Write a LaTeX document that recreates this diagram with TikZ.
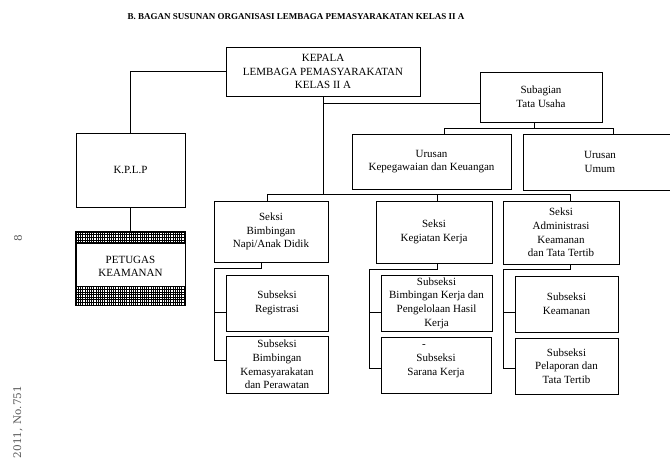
\documentclass[tikz,border=0pt]{standalone}
\usepackage{fontspec}
\setmainfont{Liberation Serif}
\newfontfamily\pagefont{DejaVu Serif}
\begin{document}
\begin{tikzpicture}[x=1pt,y=-1pt,
  box/.style={draw, line width=0.9pt, fill=white, inner sep=0pt, align=center, font=\fontsize{11}{13.7}\selectfont},
  conn/.style={line width=0.9pt},
  hatchline/.style={line width=0.32pt},
  margintext/.style={rotate=90, font=\pagefont\fontsize{10.5}{12}\selectfont, text=black!65}]
\useasboundingbox[fill=white] (0,0) rectangle (670,471);

\node[font=\bfseries\fontsize{9}{11}\selectfont] (title) at (296,17) {B. BAGAN SUSUNAN ORGANISASI LEMBAGA PEMASYARAKATAN KELAS II A};

\node[margintext] (pagenum) at (18,238) {8};
\node[margintext] (year) at (18,422) {2011, No.751};

% boxes
\node[box, minimum width=194pt, minimum height=49pt] (kepala) at (323,71.5) {KEPALA\\LEMBAGA PEMASYARAKATAN\\KELAS II A};
\node[box, minimum width=109pt, minimum height=74pt] (kplp) at (130.5,170) {K.P.L.P};
\node[box, minimum width=109pt, minimum height=73pt] (petugas) at (130.5,268.5) {};
\node[box, minimum width=122pt, minimum height=50pt] (sub) at (541,97) {Subagian\\Tata Usaha};
\node[box, minimum width=159pt, minimum height=55pt] (uk) at (431.5,161.5) {Urusan\\Kepegawaian dan Keuangan};
\node[box, minimum width=154pt, minimum height=56pt] (uu) at (600,162) {Urusan\\Umum};
\node[box, minimum width=114pt, minimum height=61pt] (sb) at (271,231.5) {Seksi\\Bimbingan\\Napi/Anak Didik};
\node[box, minimum width=116pt, minimum height=62pt] (sk) at (434,232) {Seksi\\Kegiatan Kerja};
\node[box, minimum width=116pt, minimum height=63pt] (sa) at (561,232.5) {Seksi\\Administrasi\\Keamanan\\dan Tata Tertib};
\node[box, minimum width=102pt, minimum height=56pt] (reg) at (277,303) {Subseksi\\Registrasi};
\node[box, minimum width=102pt, minimum height=57pt] (kem) at (277,364.5) {Subseksi\\Bimbingan\\Kemasyarakatan\\dan Perawatan};
\node[box, minimum width=111pt, minimum height=56pt] (bk) at (436.5,303) {Subseksi\\Bimbingan Kerja dan\\Pengelolaan Hasil\\Kerja};
\node[box, minimum width=110pt, minimum height=56pt] (sr) at (436,365) {};
\node[font=\fontsize{11}{13.7}\selectfont, align=center, inner sep=0pt] (srtext) at (436,366) {Subseksi\\Sarana Kerja};
\node[font=\fontsize{11}{13.7}\selectfont, inner sep=0pt] (srdash) at (424,346) {-};
\node[box, minimum width=103pt, minimum height=56pt] (kea) at (566.5,304) {Subseksi\\Keamanan};
\node[box, minimum width=103pt, minimum height=56pt] (pel) at (566.5,366) {Subseksi\\Pelaporan dan\\Tata Tertib};

% hatched bands of PETUGAS KEAMANAN
\begin{scope}
\clip (petugas.north west) rectangle ([yshift=-12pt]petugas.north east)
      ([yshift=19pt]petugas.south west) rectangle (petugas.south east);
\foreach \x in {76,78.2,...,186} \draw[hatchline] (\x,228) -- (\x,310);
\foreach \y in {232,234.6,...,308} \draw[hatchline] (70,\y) -- (190,\y);
\end{scope}
\draw[line width=0.9pt] (petugas.north west) rectangle (petugas.south east);
\draw[line width=0.9pt] ([yshift=-12pt]petugas.north west) -- ([yshift=-12pt]petugas.north east);
\draw[line width=0.9pt] ([yshift=19pt]petugas.south west) -- ([yshift=19pt]petugas.south east);
\node[font=\fontsize{11}{13.7}\selectfont, align=center, inner sep=0pt] (petugastext) at (130.5,266.5) {PETUGAS\\KEAMANAN};

% connectors
\coordinate (jt) at (323,103);
\coordinate (jb) at (323,195);
\draw[conn] (kepala.west) -| (kplp.north);
\draw[conn] (kplp.south) -- (petugas.north);
\draw[conn] (kepala.south) -- (jb);
\draw[conn] (jt) -- (jt -| sub.west);
\draw[conn] ([xshift=-4pt]sb.north) -- ++(0,-6) -| ([xshift=9pt]sa.north);
\draw[conn] ([xshift=3pt]sk.north) -- ++(0,-6);
\draw[conn] ([xshift=12.5pt]uk.north) -- ++(0,-5) -| ([xshift=13pt]uu.north);
\draw[conn] ([xshift=-7pt]sub.south) -- ++(0,7);

\coordinate (s1m) at (214,312);
\coordinate (s1b) at (214,360);
\draw[conn] ([xshift=-10pt]sb.south) -- ++(0,6) -| (s1b) -- (s1b -| kem.west);
\draw[conn] (s1m) -- (s1m -| reg.west);

\coordinate (s2m) at (369,312);
\coordinate (s2b) at (369,368);
\draw[conn] ([xshift=3pt]sk.south) -- ++(0,6) -| (s2b) -- (s2b -| sr.west);
\draw[conn] (s2m) -- (s2m -| bk.west);

\coordinate (s3m) at (503,312);
\coordinate (s3b) at (503,368);
\draw[conn] ([xshift=9pt]sa.south) -- ++(0,5) -| (s3b) -- (s3b -| pel.west);
\draw[conn] (s3m) -- (s3m -| kea.west);
\end{tikzpicture}
\end{document}
